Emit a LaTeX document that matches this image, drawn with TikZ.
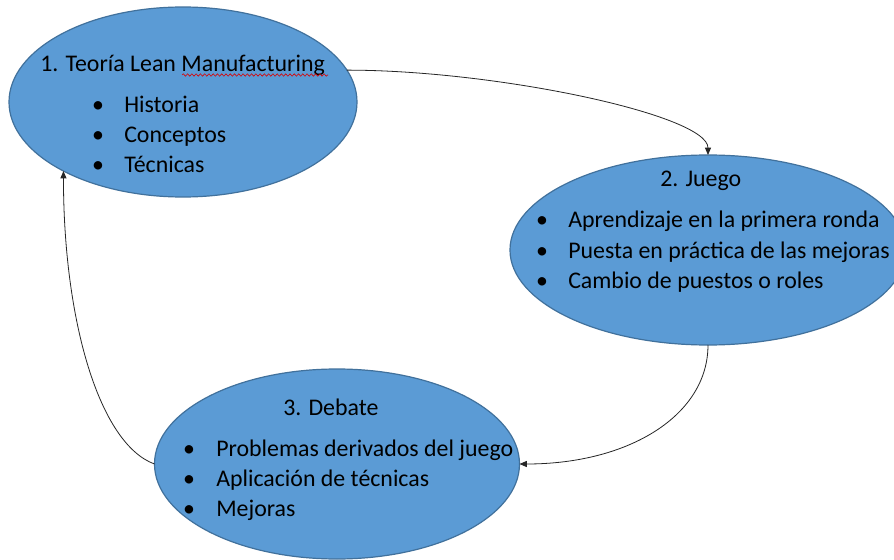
\documentclass[tikz,border=0pt]{standalone}
\usepackage{fontspec}
\setmainfont{Carlito}
\usetikzlibrary{shapes.geometric,arrows.meta,decorations.pathmorphing}
\definecolor{ellfill}{HTML}{5B9BD5}
\definecolor{elldraw}{HTML}{41719C}
\begin{document}
\begin{tikzpicture}[x=0.75pt,y=-0.75pt,
  bubble/.style={ellipse,draw=elldraw,fill=ellfill,line width=0.9pt,inner sep=0pt,outer sep=0pt,minimum height=142.5pt},
  txt/.style={inner sep=0pt,anchor=base west,font=\fontsize{17.9}{21}\selectfont},
  bul/.style={inner sep=0pt,anchor=base,font=\fontsize{17.9}{21}\selectfont},
  conn/.style={draw=black!85,line width=0.6pt,-{Triangle[length=5.5pt,width=4.5pt]}}]
\useasboundingbox (0,0) rectangle (894,560);
\clip (0,0) rectangle (894,560);
\fill[white] (0,0) rectangle (894,560);
% ellipses
\node[bubble,minimum width=261pt] (e1) at (183,102) {};
\node[bubble,minimum width=297pt] (e2) at (708,250) {};
\node[bubble,minimum width=273.75pt] (e3) at (337,464) {};
% texts ellipse 1
\node[txt] (t1) at (40,72) {1. Teoría Lean Manufacturing};
\draw[red!85!black,line width=0.45pt,decorate,decoration={snake,amplitude=0.9,segment length=3.2}] (182,75) -- (328,75);
\node[bul] (b11) at (98,113) {•};
\node[txt] (i11) at (124,113) {Historia};
\node[bul] (b12) at (98,143) {•};
\node[txt] (i12) at (124,143) {Conceptos};
\node[bul] (b13) at (98,173) {•};
\node[txt] (i13) at (124,173) {Técnicas};
% texts ellipse 2
\node[txt] (t2) at (660,187) {2. Juego};
\node[bul] (b21) at (542,228) {•};
\node[txt] (i21) at (568,228) {Aprendizaje en la primera ronda};
\node[bul] (b22) at (542,258) {•};
\node[txt] (i22) at (568,258) {Puesta en práctica de las mejoras};
\node[bul] (b23) at (542,288) {•};
\node[txt] (i23) at (568,288) {Cambio de puestos o roles};
% texts ellipse 3
\node[txt] (t3) at (283,415) {3. Debate};
\node[bul] (b31) at (189,456) {•};
\node[txt] (i31) at (216,456) {Problemas derivados del juego};
\node[bul] (b32) at (189,486) {•};
\node[txt] (i32) at (216,486) {Aplicación de técnicas};
\node[bul] (b33) at (189,516) {•};
\node[txt] (i33) at (216,516) {Mejoras};
% connectors
\draw[conn] (e1.11.6) .. controls +(150,0) and +(0,-40) .. (e2.north);
\draw[conn] (e2.south) .. controls +(0,70) and +(110,0) .. (e3.east);
\draw[conn] (e3.west) .. controls +(-55,-20) and +(0,150) .. (e1.210);
\end{tikzpicture}
\end{document}
